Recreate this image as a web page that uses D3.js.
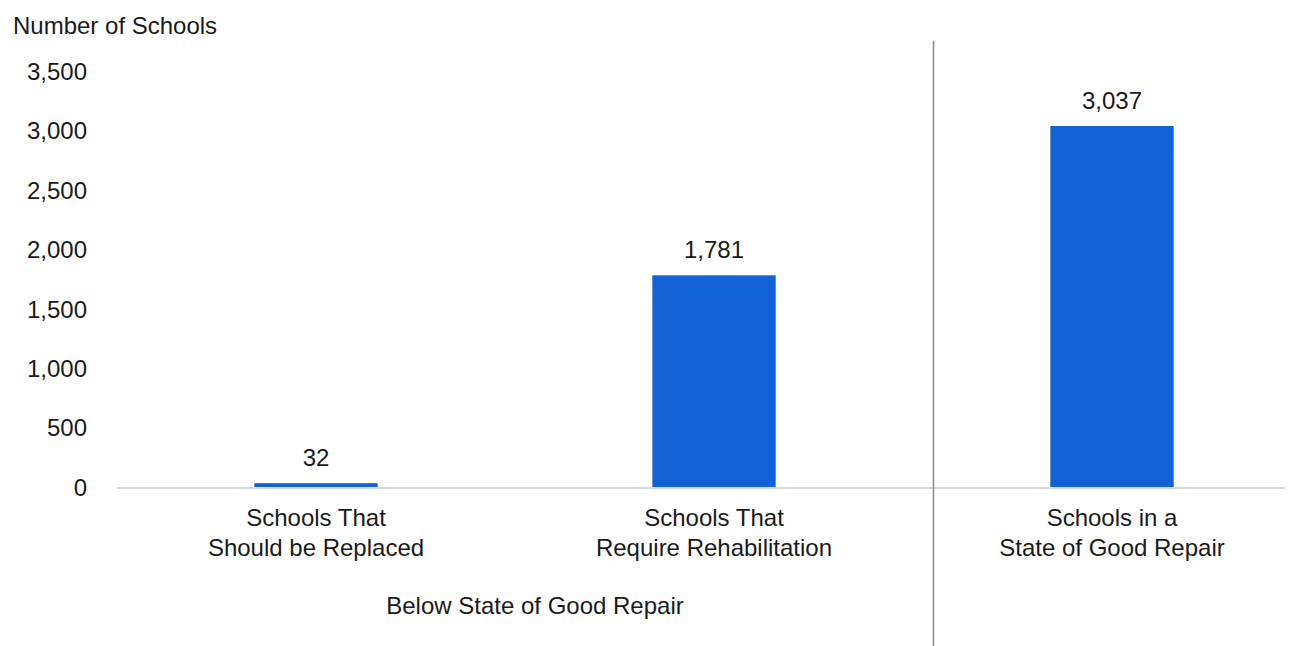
<!DOCTYPE html>
<html>
<head>
<meta charset="utf-8">
<script src="https://cdn.jsdelivr.net/npm/d3@7"></script>
<style>
  body { margin: 0; background: #fff; }
  text { font-family: Arial, "Liberation Sans", sans-serif; fill: #1a1a1a; }
</style>
</head>
<body>
<div id="chart"></div>
<script>
// data
var categories = ['Schools That\nShould be Replaced', 'Schools That\nRequire Rehabilitation', 'Schools in a\nState of Good Repair'];
var counts = [32, 1781, 3037];
var yTicks = [0, 500, 1000, 1500, 2000, 2500, 3000, 3500];
var groupLabel = 'Below State of Good Repair';

var width = 1298;
var height = 646;
var fontSize = 24;

var svg = d3.select('#chart')
  .append('svg')
  .attr('width', width)
  .attr('height', height);

var x = d3.scaleBand()
  .domain(categories)
  .range([117, 1311])
  .paddingInner(0.69)
  .paddingOuter(0.345);

var y = d3.scaleLinear()
  .domain([0, 3500])
  .range([487, 71]);

// y axis labels (no line)
var yAxis = d3.axisLeft(y)
  .tickValues(yTicks)
  .tickSize(0)
  .tickPadding(0)
  .tickFormat(d3.format(','));

svg.append('g')
  .attr('transform', 'translate(87,0)')
  .call(yAxis)
  .call(function(g) { g.select('.domain').remove(); })
  .selectAll('text')
  .attr('font-size', fontSize)
  .attr('font-family', 'Arial, "Liberation Sans", sans-serif')
  .attr('fill', '#1a1a1a')
  .attr('dy', '0.35em');

svg.append('text')
  .attr('x', 13)
  .attr('y', 34)
  .attr('font-size', fontSize)
  .text('Number of Schools');

// bars
svg.selectAll('rect.bar')
  .data(counts)
  .enter()
  .append('rect')
  .attr('class', 'bar')
  .attr('x', function(d, i) { return x(categories[i]); })
  .attr('width', x.bandwidth())
  .attr('y', function(d) { return y(d); })
  .attr('height', function(d) { return y(0) - y(d); })
  .attr('fill', '#1261d6');

// baseline
svg.append('line')
  .attr('x1', 117)
  .attr('x2', 1285)
  .attr('y1', y(0) + 1)
  .attr('y2', y(0) + 1)
  .attr('stroke', '#d9d9d9')
  .attr('stroke-width', 2);

// value labels
svg.selectAll('text.value')
  .data(counts)
  .enter()
  .append('text')
  .attr('class', 'value')
  .attr('x', function(d, i) { return x(categories[i]) + x.bandwidth() / 2; })
  .attr('y', function(d) { return y(d) - 17; })
  .attr('text-anchor', 'middle')
  .attr('font-size', fontSize)
  .text(function(d) { return d3.format(',')(d); });

// category labels, two lines each
var catLabels = svg.selectAll('text.cat')
  .data(categories)
  .enter()
  .append('text')
  .attr('class', 'cat')
  .attr('text-anchor', 'middle')
  .attr('font-size', fontSize);

catLabels.selectAll('tspan')
  .data(function(d) { return d.split('\n').map(function(s) { return { line: s, cat: d }; }); })
  .enter()
  .append('tspan')
  .attr('x', function(d) { return x(d.cat) + x.bandwidth() / 2; })
  .attr('y', function(d, i) { return 526 + i * 30; })
  .text(function(d) { return d.line; });

// separator between the groups
svg.append('line')
  .attr('x1', 933.5)
  .attr('x2', 933.5)
  .attr('y1', 41)
  .attr('y2', height)
  .attr('stroke', '#8c8c8c')
  .attr('stroke-width', 1.5);

svg.append('text')
  .attr('x', 535)
  .attr('y', 614)
  .attr('text-anchor', 'middle')
  .attr('font-size', fontSize)
  .text(groupLabel);
</script>
</body>
</html>
